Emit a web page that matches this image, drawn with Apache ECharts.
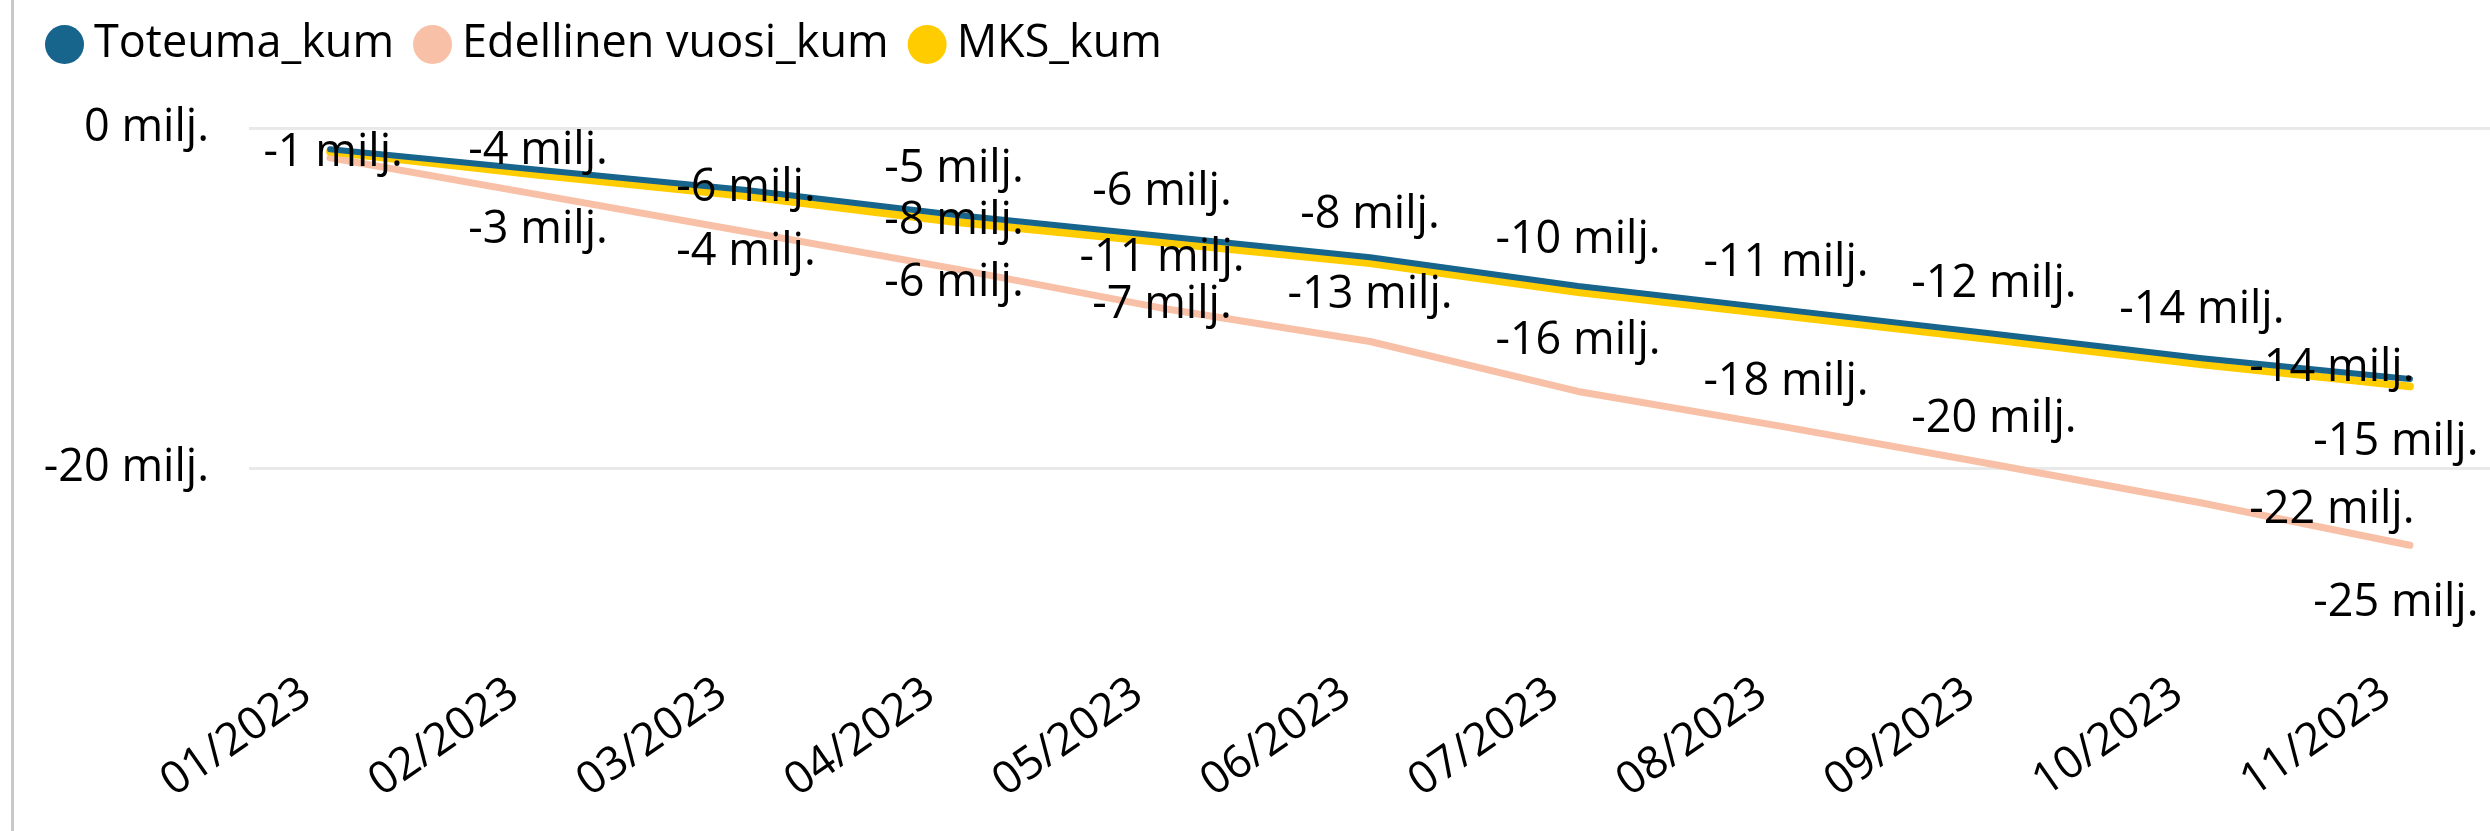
<!DOCTYPE html>
<html>
<head>
<meta charset="utf-8">
<script src="https://cdn.jsdelivr.net/npm/echarts@6/dist/echarts.min.js"></script>
<style>
html,body{margin:0;padding:0;background:#fff;}
#c{position:absolute;left:0;top:0;width:2490px;height:831px;}
#edge{position:absolute;left:11px;top:0;width:3px;height:831px;background:#c8c8c8;}
</style>
</head>
<body>
<div id="c"></div>
<div id="edge"></div>
<script>
// ---- data (millions of euros) ----
const months = ['01/2023','02/2023','03/2023','04/2023','05/2023','06/2023','07/2023','08/2023','09/2023','10/2023','11/2023'];
const toteumaKum   = [-1.25, -2.45, -3.65, -5.10, -6.35, -7.60, -9.30, -10.70, -12.10, -13.55, -14.76];
const edellinenKum = [-1.75, -3.92, -6.10, -8.27, -10.60, -12.56, -15.50, -17.60, -19.80, -22.06, -24.55];
const mksKum       = [-1.39, -2.75, -4.00, -5.52, -6.72, -7.95, -9.65, -11.05, -12.45, -13.90, -15.20];
const yTickValues  = [-20, 0];
const seriesNames  = ['Toteuma_kum', 'Edellinen vuosi_kum', 'MKS_kum'];

// ---- styling / label placement (offsets in px from each point; null = label hidden) ----
const FONT = "'Segoe UI', 'Open Sans', sans-serif";
const colors = { toteuma: '#17648D', edellinen: '#F8C1A7', mks: '#FFCC00' };
const labelPlacement = {
  toteuma:   [[3,4], null, null, [0,-46], [0,-44], [0,-42], null, [0,-47], [0,-49], [0,-48], null],
  edellinen: [null, [0,-43], [0,-44], [0,-47], [0,-50], [0,-46], [0,-50], [0,-45], [0,-45], [130,7], [-14,58]],
  mks:       [null, [0,55], [0,56], [0,61], [0,63], null, [0,-52], null, null, [130,4], [-14,56]]
};

function fmtMilj(v) {
  const r = Math.round(Math.abs(v));
  return (v < 0 && r !== 0 ? '-' : '') + r + ' milj.';
}

function points(values) {
  return values.map((v, i) => [i, v]);
}

function labelData(values, placement) {
  return values.map((v, i) => {
    const o = placement[i];
    return {
      value: [i, v],
      label: o ? { show: true, position: 'inside', offset: o } : { show: false }
    };
  });
}

function lineSeries(name, values, color, width, z) {
  return {
    name: name,
    type: 'line',
    data: points(values),
    symbol: 'none',
    z: z,
    lineStyle: { color: color, width: width, cap: 'round', join: 'round' },
    itemStyle: { color: color },
    emphasis: { disabled: true },
    silent: true
  };
}

function labelSeries(name, values, placement) {
  return {
    name: name + ' (labels)',
    type: 'scatter',
    data: labelData(values, placement),
    symbol: 'circle',
    symbolSize: 1,
    z: 20,
    silent: true,
    itemStyle: { color: 'rgba(255,255,255,0)' },
    label: {
      show: true,
      formatter: p => fmtMilj(p.value[1]),
      fontSize: 45,
      fontFamily: FONT,
      color: '#000',
      opacity: 1,
      textBorderWidth: 0,
      textBorderColor: 'transparent',
      textShadowBlur: 0
    },
    emphasis: { disabled: true }
  };
}

const chart = echarts.init(document.getElementById('c'), null, { renderer: 'canvas' });
chart.setOption({
  animation: false,
  backgroundColor: '#fff',
  textStyle: { fontFamily: FONT },
  legend: {
    data: seriesNames.map((n, i) => ({ name: n, itemStyle: { color: [colors.toteuma, colors.edellinen, colors.mks][i] } })),
    left: 40,
    top: 17,
    icon: 'circle',
    itemWidth: 39,
    itemHeight: 39,
    itemGap: 19,
    selectedMode: false,
    textStyle: { fontSize: 45, color: '#000', fontFamily: FONT, padding: [0, 0, 0, 5] }
  },
  grid: { left: 249, right: 0, top: 128, bottom: 173, containLabel: false },
  xAxis: {
    type: 'value',
    min: -0.39,
    max: 10.385,
    axisLine: { show: false },
    axisTick: { show: false },
    splitLine: { show: false },
    axisLabel: {
      customValues: months.map((m, i) => i),
      formatter: v => months[Math.round(v)],
      rotate: 35,
      margin: 14,
      padding: [0, 29, 0, 0],
      fontSize: 45,
      color: '#000',
      fontFamily: FONT
    }
  },
  yAxis: {
    type: 'value',
    min: -31.18,
    max: 0,
    axisLine: { show: false },
    axisTick: { show: false, customValues: yTickValues },
    splitLine: { show: true, lineStyle: { color: '#E9E9E9', width: 3 } },
    axisLabel: {
      customValues: yTickValues,
      formatter: v => v + ' milj.',
      margin: 40,
      fontSize: 45,
      color: '#000',
      fontFamily: FONT
    }
  },
  series: [
    lineSeries(seriesNames[1], edellinenKum, colors.edellinen, 7, 2),
    lineSeries(seriesNames[2], mksKum, colors.mks, 8, 3),
    lineSeries(seriesNames[0], toteumaKum, colors.toteuma, 6, 4),
    labelSeries(seriesNames[1], edellinenKum, labelPlacement.edellinen),
    labelSeries(seriesNames[2], mksKum, labelPlacement.mks),
    labelSeries(seriesNames[0], toteumaKum, labelPlacement.toteuma)
  ]
});
</script>
</body>
</html>
